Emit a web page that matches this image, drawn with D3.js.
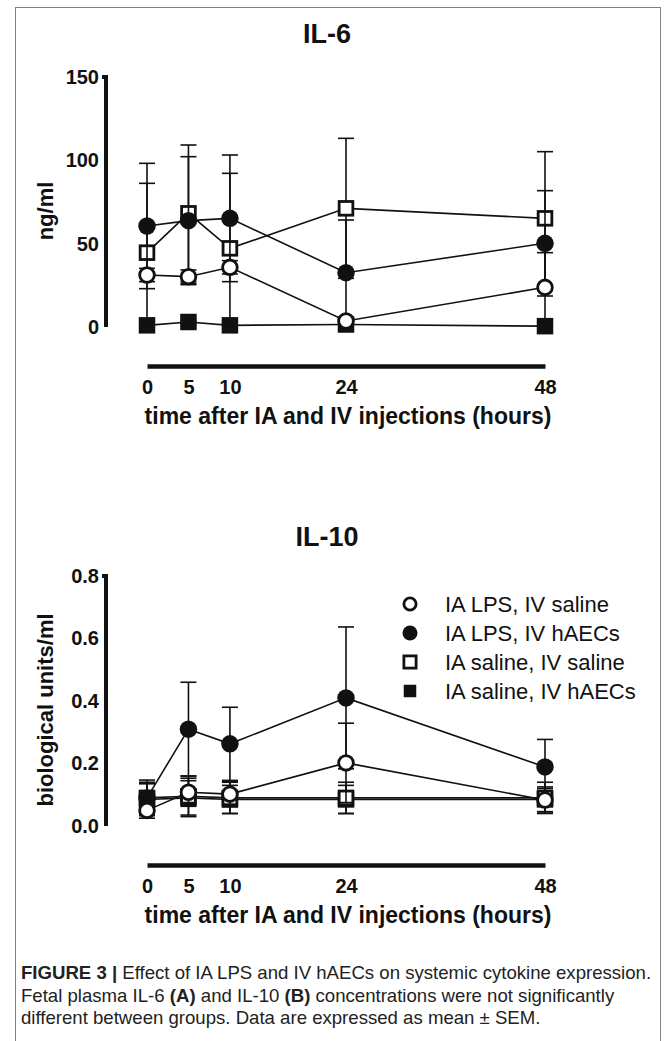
<!DOCTYPE html>
<html>
<head>
<meta charset="utf-8">
<script src="https://cdn.jsdelivr.net/npm/d3@7"></script>
<style>
  body { margin: 0; background: #fff; }
  svg text { font-family: "Liberation Sans", Arial, Helvetica, sans-serif; }
</style>
</head>
<body>
<svg id="fig" width="672" height="1041"></svg>
<script>
// time points (hours) and groups
var hours = [0, 5, 10, 24, 48];
var groups = ["IA LPS, IV saline", "IA LPS, IV hAECs", "IA saline, IV saline", "IA saline, IV hAECs"];

// IL-6 (ng/ml), mean and SEM per group
var il6LpsSaline = [31.2, 30.2, 35.8, 3.6, 23.8];
var il6LpsSalineSem = [4, 4, 4, 2, 20.8];
var il6LpsHaec = [60.6, 63.8, 65.2, 32.6, 50.2];
var il6LpsHaecSem = [37.6, 38.4, 38, 31.6, 31.6];
var il6SalSaline = [44.6, 68.2, 47.2, 71.2, 65.2];
var il6SalSalineSem = [41.6, 41, 45, 42, 40];
var il6SalHaec = [1, 3, 1, 1.5, 0.5];
var il6SalHaecSem = [1, 1, 1, 1, 0.5];

// IL-10 (biological units/ml), mean and SEM per group
var il10LpsSaline = [0.05, 0.108, 0.102, 0.202, 0.083];
var il10LpsSalineSem = [0.025, 0.045, 0.04, 0.127, 0.037];
var il10LpsHaec = [0.09, 0.31, 0.263, 0.41, 0.189];
var il10LpsHaecSem = [0.05, 0.15, 0.117, 0.227, 0.088];
var il10SalSaline = [0.09, 0.095, 0.09, 0.09, 0.09];
var il10SalSalineSem = [0.057, 0.065, 0.05, 0.05, 0.05];
var il10SalHaec = [0.085, 0.09, 0.085, 0.085, 0.085];
var il10SalHaecSem = [0.05, 0.055, 0.045, 0.045, 0.04];

// axis ticks
var il6Ticks = [0, 50, 100, 150];
var il10Ticks = [0, 0.2, 0.4, 0.6, 0.8];

var svg = d3.select("#fig");
var black = "#111";

// figure frame
svg.append("rect")
  .attr("x", 15.5).attr("y", 7.5)
  .attr("width", 645).attr("height", 1100)
  .attr("fill", "none").attr("stroke", "#808080").attr("stroke-width", 1);

var x = d3.scaleLinear().domain([0, 48]).range([147, 545]);

// marker styles per group (index into groups)
var shapes = ["circle", "circle", "square", "square"];
var filled = [false, true, false, true];

function marker(sel, shape, isFilled, size) {
  if (shape === "circle") {
    sel.append("circle")
      .attr("r", isFilled ? size / 2 : size / 2 - 1.4)
      .attr("fill", isFilled ? black : "#fff")
      .attr("stroke", black)
      .attr("stroke-width", isFilled ? 0 : 2.8);
  } else {
    var s = isFilled ? size : size - 2.8;
    sel.append("rect")
      .attr("x", -s / 2).attr("y", -s / 2)
      .attr("width", s).attr("height", s)
      .attr("fill", isFilled ? black : "#fff")
      .attr("stroke", black)
      .attr("stroke-width", isFilled ? 0 : 2.8);
  }
}

function drawPanel(p) {
  var y = d3.scaleLinear().domain(p.domain).range([p.bottom, p.bottom - 250]);
  var g = svg.append("g");

  // panel title
  g.append("text")
    .attr("x", 327).attr("y", p.titleY)
    .attr("text-anchor", "middle")
    .attr("font-size", 27).attr("font-weight", "bold").attr("fill", black)
    .text(p.title);

  // y axis
  var ya = g.append("g")
    .attr("transform", "translate(106,0)")
    .call(d3.axisLeft(y).tickValues(p.ticks).tickFormat(p.fmt).tickSize(0).tickPadding(7));
  ya.attr("font-family", null);
  ya.select(".domain")
    .attr("d", "M-4," + y.range()[1] + "H0V" + y.range()[0])
    .attr("stroke", black).attr("stroke-width", 4);
  ya.selectAll("text")
    .attr("font-size", 20).attr("font-weight", "bold").attr("fill", black);

  g.append("text")
    .attr("transform", "translate(53," + p.yTitleY + ") rotate(-90)")
    .attr("text-anchor", "middle")
    .attr("font-size", 22).attr("font-weight", "bold").attr("fill", black)
    .text(p.yTitle);

  // x axis, offset below the plot
  var xa = g.append("g")
    .attr("transform", "translate(0," + (p.bottom + 39) + ")")
    .call(d3.axisBottom(x).tickValues(hours).tickSize(0).tickSizeOuter(0).tickPadding(14));
  xa.attr("font-family", null);
  xa.select(".domain").attr("stroke", black).attr("stroke-width", 4.5);
  xa.selectAll("text")
    .attr("font-size", 20).attr("font-weight", "bold").attr("fill", black);

  g.append("text")
    .attr("x", 348).attr("y", p.bottom + 97)
    .attr("text-anchor", "middle")
    .attr("font-size", 23).attr("font-weight", "bold").attr("fill", black)
    .text("time after IA and IV injections (hours)");

  // series, drawn so that open circles end up on top
  var order = [3, 2, 1, 0];
  var line = d3.line().x(function(d) { return x(d.t); }).y(function(d) { return y(d.v); });

  order.forEach(function(k) {
    var pts = hours.map(function(t, i) {
      return { t: t, v: p.means[k][i], e: p.sems[k][i] };
    });
    var sg = g.append("g");

    // error bars (clipped at the axis minimum)
    var eb = sg.selectAll(".eb").data(pts).enter().append("g")
      .attr("stroke", black).attr("stroke-width", 1.6);
    eb.append("line")
      .attr("x1", function(d) { return x(d.t); })
      .attr("x2", function(d) { return x(d.t); })
      .attr("y1", function(d) { return y(Math.max(d.v - d.e, p.domain[0])); })
      .attr("y2", function(d) { return y(d.v + d.e); });
    eb.append("line")
      .attr("x1", function(d) { return x(d.t) - 8; })
      .attr("x2", function(d) { return x(d.t) + 8; })
      .attr("y1", function(d) { return y(d.v + d.e); })
      .attr("y2", function(d) { return y(d.v + d.e); });
    eb.filter(function(d) { return d.v - d.e > p.domain[0]; })
      .append("line")
      .attr("x1", function(d) { return x(d.t) - 8; })
      .attr("x2", function(d) { return x(d.t) + 8; })
      .attr("y1", function(d) { return y(d.v - d.e); })
      .attr("y2", function(d) { return y(d.v - d.e); });

    sg.append("path")
      .datum(pts)
      .attr("d", line)
      .attr("fill", "none").attr("stroke", black).attr("stroke-width", 1.6);

    sg.selectAll(".pt").data(pts).enter().append("g")
      .attr("transform", function(d) { return "translate(" + x(d.t) + "," + y(d.v) + ")"; })
      .each(function() { marker(d3.select(this), shapes[k], filled[k], shapes[k] === "circle" ? 17.5 : 16.5); });
  });

  return y;
}

drawPanel({
  title: "IL-6",
  titleY: 43,
  bottom: 327,
  domain: [0, 150],
  ticks: il6Ticks,
  fmt: d3.format("d"),
  yTitle: "ng/ml",
  yTitleY: 211,
  means: [il6LpsSaline, il6LpsHaec, il6SalSaline, il6SalHaec],
  sems: [il6LpsSalineSem, il6LpsHaecSem, il6SalSalineSem, il6SalHaecSem]
});

drawPanel({
  title: "IL-10",
  titleY: 546,
  bottom: 826,
  domain: [0, 0.8],
  ticks: il10Ticks,
  fmt: d3.format(".1f"),
  yTitle: "biological units/ml",
  yTitleY: 710,
  means: [il10LpsSaline, il10LpsHaec, il10SalSaline, il10SalHaec],
  sems: [il10LpsSalineSem, il10LpsHaecSem, il10SalSalineSem, il10SalHaecSem]
});

// legend
var legend = svg.append("g").attr("transform", "translate(410,604)");
groups.forEach(function(name, k) {
  var row = legend.append("g").attr("transform", "translate(0," + (k * 29) + ")");
  marker(row, shapes[k], filled[k], shapes[k] === "circle" ? 15 : (filled[k] ? 12.5 : 15));
  row.append("text")
    .attr("x", 35).attr("y", 0).attr("dy", "0.36em")
    .attr("font-size", 22).attr("fill", black)
    .text(name);
});

// caption
var cap = svg.append("text")
  .attr("font-size", 18.6).attr("fill", "#222");
var l1 = cap.append("tspan").attr("x", 21).attr("y", 979);
l1.append("tspan").attr("font-weight", "bold").text("FIGURE 3 | ");
l1.append("tspan").text("Effect of IA LPS and IV hAECs on systemic cytokine expression.");
var l2 = cap.append("tspan").attr("x", 21).attr("y", 1001.5);
l2.append("tspan").text("Fetal plasma IL-6 ");
l2.append("tspan").attr("font-weight", "bold").text("(A)");
l2.append("tspan").text(" and IL-10 ");
l2.append("tspan").attr("font-weight", "bold").text("(B)");
l2.append("tspan").text(" concentrations were not significantly");
cap.append("tspan").attr("x", 21).attr("y", 1024)
  .text("different between groups. Data are expressed as mean \u00b1 SEM.");
</script>
</body>
</html>
